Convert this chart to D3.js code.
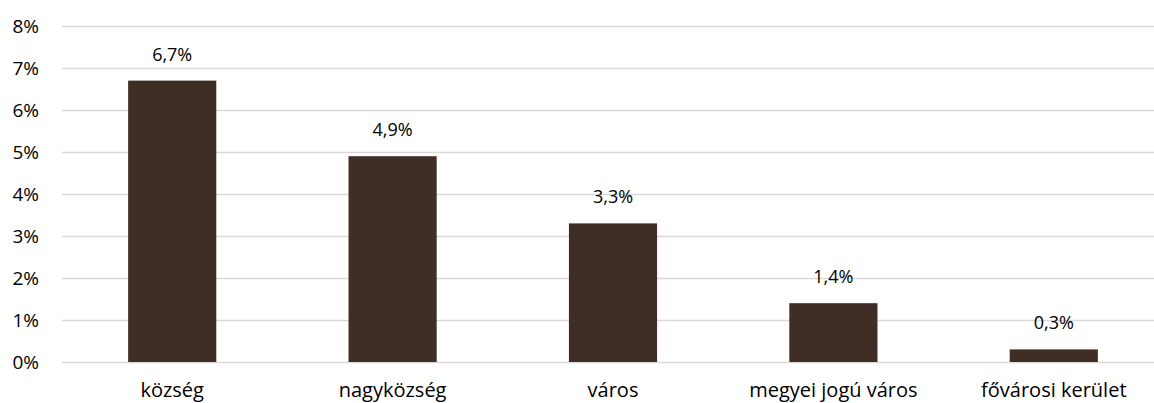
<!DOCTYPE html>
<html><head><meta charset="utf-8">
<script src="https://cdn.jsdelivr.net/npm/d3@7"></script>
<style>html,body{margin:0;padding:0;background:#fff;overflow:hidden}</style>
</head><body>
<script>
const categories = ["község", "nagyközség", "város", "megyei jogú város", "fővárosi kerület"];
const values = [6.7, 4.9, 3.3, 1.4, 0.3];
const valueLabels = ["6,7%", "4,9%", "3,3%", "1,4%", "0,3%"];
const yTicks = [0, 1, 2, 3, 4, 5, 6, 7, 8];

const W = 1154, H = 403;
const font = "'Open Sans', sans-serif";
const svg = d3.select("body").append("svg").attr("width", W).attr("height", H)
  .style("font-family", font);

const y = d3.scaleLinear().domain([0, 8]).range([362, 26]);
const x = d3.scaleBand().domain(categories).range([62, 1164]).paddingInner(0.6).paddingOuter(0.3);

// gridlines
svg.append("g").selectAll("line").data(yTicks).join("line")
  .attr("x1", 62).attr("x2", W)
  .attr("y1", d => y(d) + 0.5).attr("y2", d => y(d) + 0.5)
  .attr("stroke", "#d9d9d9").attr("stroke-width", 1.3);

// y tick labels
svg.append("g").selectAll("text").data(yTicks).join("text")
  .attr("x", 39).attr("y", d => y(d))
  .attr("dy", "0.35em")
  .attr("text-anchor", "end")
  .attr("font-size", 19).attr("fill", "#000")
  .text(d => d + "%");

// bars
svg.append("g").selectAll("rect").data(values).join("rect")
  .attr("x", (d, i) => x(categories[i]))
  .attr("width", x.bandwidth())
  .attr("y", d => y(d))
  .attr("height", d => y(0) - y(d))
  .attr("fill", "#3f2e25");

// value labels
svg.append("g").selectAll("text").data(values).join("text")
  .attr("x", (d, i) => x(categories[i]) + x.bandwidth() / 2)
  .attr("y", d => y(d) - 20)
  .attr("text-anchor", "middle")
  .attr("font-size", 18).attr("fill", "#000")
  .text((d, i) => valueLabels[i]);

// category labels
svg.append("g").selectAll("text").data(categories).join("text")
  .attr("x", d => x(d) + x.bandwidth() / 2)
  .attr("y", 397)
  .attr("text-anchor", "middle")
  .attr("font-size", 20).attr("fill", "#000")
  .text(d => d);
</script>
</body></html>
